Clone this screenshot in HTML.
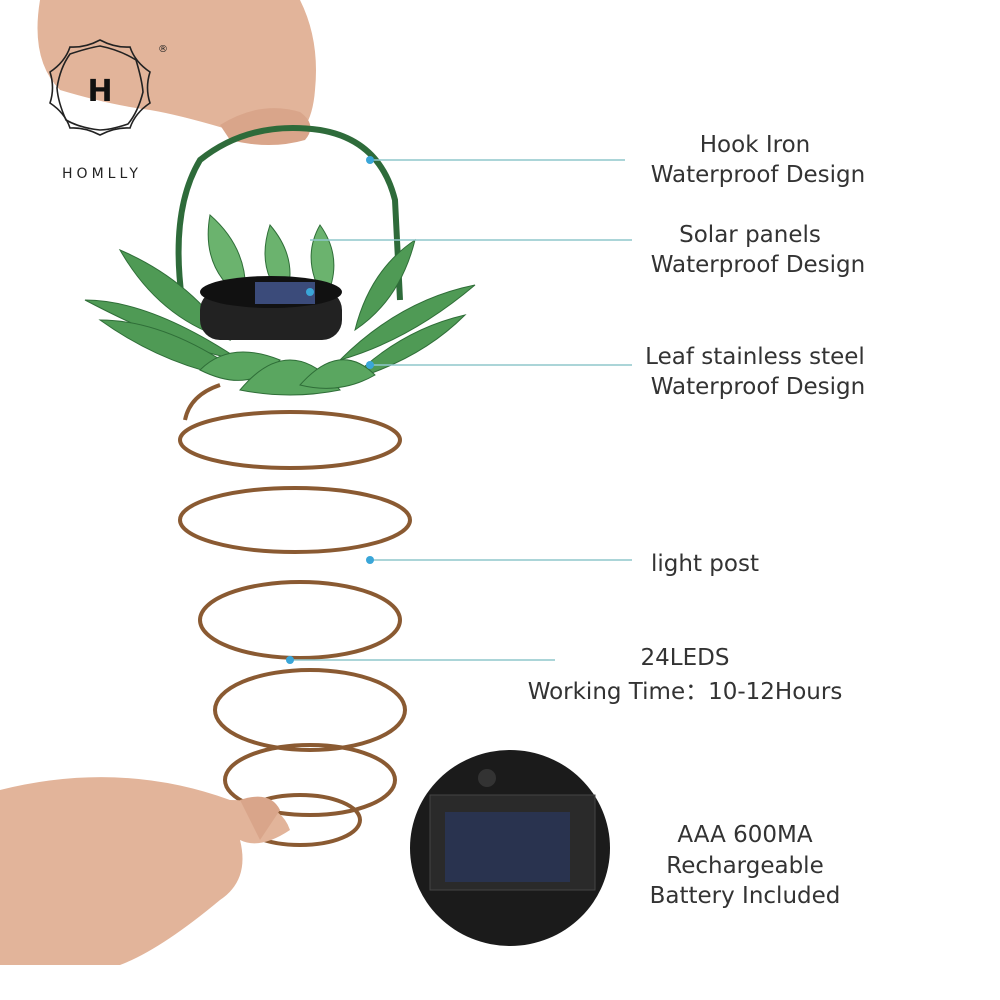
<!DOCTYPE html>
<html><head><meta charset="utf-8"><style>
html,body{margin:0;padding:0;background:#fff;}
svg{display:block}
text{font-family:"DejaVu Sans","Liberation Sans",sans-serif;fill:#333;}
</style></head><body>
<svg width="1000" height="1000" viewBox="0 0 1000 1000" xmlns="http://www.w3.org/2000/svg">
<rect width="1000" height="1000" fill="#fff"/>
<!-- top hand -->
<path d="M40 0 L300 0 Q320 40 315 90 Q312 130 290 140 Q260 145 230 130 Q180 115 150 110 Q110 105 60 90 Q30 60 40 0Z" fill="#e2b49a"/>
<path d="M220 125 Q260 100 300 112 Q318 125 305 140 Q270 150 230 140Z" fill="#d9a58a"/>
<!-- logo -->
<g fill="none" stroke="#222" stroke-width="1.6">
<path d="M100 40 Q115 48 130 47 Q135 62 150 72 Q145 88 150 103 Q135 113 130 128 Q115 127 100 135 Q85 127 70 128 Q65 113 50 103 Q55 88 50 72 Q65 62 70 47 Q85 48 100 40Z"/>
<path d="M100 46 Q120 50 136 60 Q142 80 143 92 Q138 112 128 124 Q110 130 100 130 Q80 128 66 120 Q58 102 57 88 Q60 68 70 54 Q88 48 100 46Z"/>
</g>
<text x="100" y="101" text-anchor="middle" font-size="30" font-weight="bold" fill="#111" style="fill:#111">H</text>
<text x="158" y="52" font-size="10" style="fill:#222">®</text>
<text x="102" y="178" text-anchor="middle" font-size="14" letter-spacing="4" style="fill:#222">HOMLLY</text>
<!-- handle -->
<path d="M182 300 Q170 210 200 160 Q250 120 320 130 Q380 140 395 200 L400 300" fill="none" stroke="#2e6b3a" stroke-width="6"/>
<!-- leaves -->
<g fill="#4f9a55" stroke="#2f6e38" stroke-width="1">
<path d="M85 300 Q150 300 240 360 Q180 350 85 300Z"/>
<path d="M100 320 Q170 320 250 380 Q170 370 100 320Z"/>
<path d="M120 250 Q190 280 230 340 Q160 320 120 250Z"/>
<path d="M200 370 Q230 340 280 360 Q250 395 200 370Z" fill="#5aa660"/>
<path d="M475 285 Q400 300 340 360 Q410 340 475 285Z"/>
<path d="M465 315 Q400 330 350 380 Q420 360 465 315Z"/>
<path d="M415 240 Q370 270 355 330 Q400 300 415 240Z"/>
<path d="M210 215 Q250 250 245 300 Q200 270 210 215Z" fill="#6bb36e"/>
<path d="M270 225 Q300 260 285 300 Q255 270 270 225Z" fill="#6bb36e"/>
<path d="M320 225 Q345 260 325 300 Q300 260 320 225Z" fill="#6bb36e"/>
<path d="M240 390 Q290 330 340 390 Q290 400 240 390Z" fill="#5aa660"/>
<path d="M300 385 Q340 340 375 375 Q340 395 300 385Z" fill="#5aa660"/>
</g>
<!-- cap -->
<rect x="200" y="290" width="142" height="50" rx="20" fill="#222"/>
<ellipse cx="271" cy="292" rx="71" ry="16" fill="#111"/>
<rect x="255" y="282" width="60" height="22" fill="#3b4b7a"/>
<!-- spiral -->
<g fill="none" stroke="#8a5a32" stroke-width="4">
<ellipse cx="290" cy="440" rx="110" ry="28"/>
<ellipse cx="295" cy="520" rx="115" ry="32"/>
<ellipse cx="300" cy="620" rx="100" ry="38"/>
<ellipse cx="310" cy="710" rx="95" ry="40"/>
<ellipse cx="310" cy="780" rx="85" ry="35"/>
<ellipse cx="300" cy="820" rx="60" ry="25"/>
<path d="M185 420 Q190 395 220 385"/>
</g>
<!-- bottom hand -->
<path d="M0 790 Q120 760 230 800 Q280 800 290 830 Q260 850 240 840 Q250 880 220 900 Q160 950 120 965 L0 965Z" fill="#e2b49a"/>
<path d="M240 800 Q270 790 280 810 L260 840Z" fill="#d9a58a"/>
<!-- battery -->
<ellipse cx="510" cy="848" rx="100" ry="98" fill="#1b1b1b"/>
<rect x="430" y="795" width="165" height="95" fill="#2a2a2a" stroke="#444"/>
<rect x="445" y="812" width="125" height="70" fill="#29334f"/>
<circle cx="487" cy="778" r="9" fill="#333"/>
<!-- callout lines -->
<g stroke="#8fc7cc" stroke-width="1.5">
<line x1="370" y1="160" x2="625" y2="160"/>
<line x1="310" y1="240" x2="632" y2="240"/>
<line x1="370" y1="365" x2="632" y2="365"/>
<line x1="370" y1="560" x2="632" y2="560"/>
<line x1="290" y1="660" x2="555" y2="660"/>
</g>
<g fill="#3aa6d8">
<circle cx="370" cy="160" r="4"/><circle cx="310" cy="292" r="4"/><circle cx="370" cy="365" r="4"/><circle cx="370" cy="560" r="4"/><circle cx="290" cy="660" r="4"/>
</g>
<!-- labels -->
<g font-size="23" text-anchor="middle">
<text x="755" y="152">Hook Iron</text>
<text x="758" y="182">Waterproof Design</text>
<text x="750" y="242">Solar panels</text>
<text x="758" y="272">Waterproof Design</text>
<text x="755" y="364">Leaf stainless steel</text>
<text x="758" y="394">Waterproof Design</text>
<text x="705" y="571">light post</text>
<text x="685" y="665">24LEDS</text>
<text x="685" y="699">Working Time：10-12Hours</text>
<text x="745" y="842">AAA 600MA</text>
<text x="745" y="873">Rechargeable</text>
<text x="745" y="903">Battery Included</text>
</g>
</svg>
</body></html>
